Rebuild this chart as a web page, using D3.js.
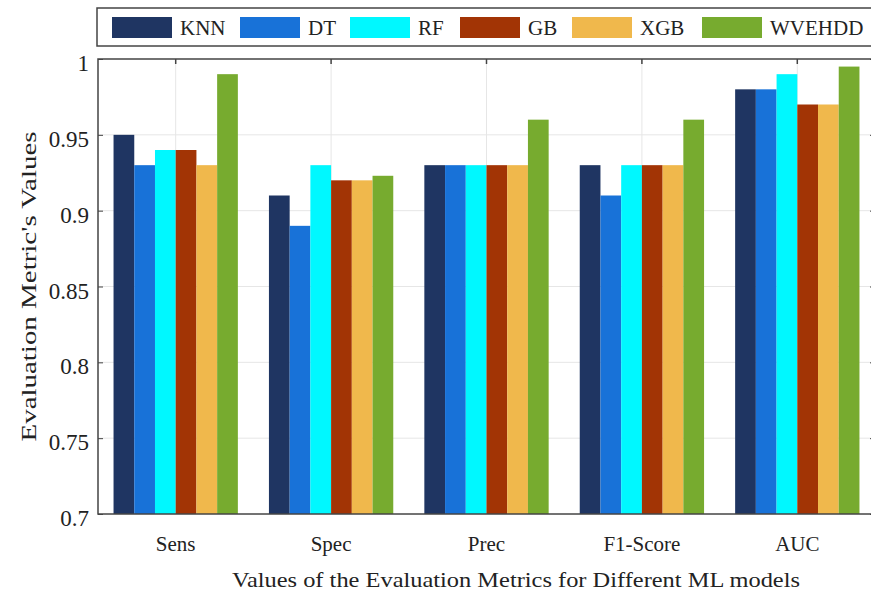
<!DOCTYPE html>
<html>
<head>
<meta charset="utf-8">
<script src="https://cdn.jsdelivr.net/npm/d3@7"></script>
<style>
  html, body { margin: 0; padding: 0; background: #fff; }
  svg { display: block; }
  text { font-family: "Liberation Serif", "Times New Roman", serif; fill: #222; }
</style>
</head>
<body>
<svg id="chart" width="871" height="596"></svg>
<script>
// ---- data ----
const categories = ["Sens", "Spec", "Prec", "F1-Score", "AUC"];
const models = ["KNN", "DT", "RF", "GB", "XGB", "WVEHDD"];
const KNN    = [0.95, 0.91, 0.93, 0.93, 0.98];
const DT     = [0.93, 0.89, 0.93, 0.91, 0.98];
const RF     = [0.94, 0.93, 0.93, 0.93, 0.99];
const GB     = [0.94, 0.92, 0.93, 0.93, 0.97];
const XGB    = [0.93, 0.92, 0.93, 0.93, 0.97];
const WVEHDD = [0.99, 0.923, 0.96, 0.96, 0.995];
const yTickValues = [0.7, 0.75, 0.8, 0.85, 0.9, 0.95, 1];
const yTickLabels = ["0.7", "0.75", "0.8", "0.85", "0.9", "0.95", "1"];
const colors = ["#1f3562", "#1872d8", "#00f8ff", "#a23405", "#f0b84c", "#77ab2f"];
const yLabel = "Evaluation Metric's Values";
const xLabel = "Values of the Evaluation Metrics for Different ML models";

const seriesValues = [KNN, DT, RF, GB, XGB, WVEHDD];

// ---- layout ----
const svg = d3.select("#chart");
const L = 98, R = 875, T = 59, B = 514;

const x0 = d3.scaleBand().domain(categories).range([L, R]).paddingInner(0.2).paddingOuter(0.1);
const x1 = d3.scaleBand().domain(models).range([0, x0.bandwidth()]);
const y = d3.scaleLinear().domain([0.7, 1]).range([B, T]);
const color = d3.scaleOrdinal().domain(models).range(colors);

// grid
const grid = svg.append("g");
grid.selectAll("line.h").data(yTickValues.slice(1, -1)).join("line")
  .attr("x1", L).attr("x2", R).attr("y1", d => y(d)).attr("y2", d => y(d))
  .attr("stroke", "#e6e6e6").attr("stroke-width", 1);
grid.selectAll("line.v").data(categories).join("line")
  .attr("x1", d => x0(d) + x0.bandwidth() / 2).attr("x2", d => x0(d) + x0.bandwidth() / 2)
  .attr("y1", T).attr("y2", B)
  .attr("stroke", "#e6e6e6").attr("stroke-width", 1);

// bars
const rows = categories.map((c, i) => ({ cat: c, vals: models.map((m, j) => ({ model: m, value: seriesValues[j][i] })) }));
svg.append("g").selectAll("g").data(rows).join("g")
  .attr("transform", d => `translate(${x0(d.cat)},0)`)
  .selectAll("rect").data(d => d.vals).join("rect")
  .attr("x", d => x1(d.model))
  .attr("width", x1.bandwidth())
  .attr("y", d => y(d.value))
  .attr("height", d => y(0.7) - y(d.value))
  .attr("fill", d => color(d.model));

// axes box
svg.append("rect").attr("x", L).attr("y", T).attr("width", R - L).attr("height", B - T)
  .attr("fill", "none").attr("stroke", "#444").attr("stroke-width", 1.5);

// y axis
const yAxis = d3.axisLeft(y).tickValues(yTickValues).tickSizeInner(-5).tickSizeOuter(0)
  .tickPadding(9).tickFormat((d, i) => yTickLabels[i]);
const gy = svg.append("g").attr("transform", `translate(${L},0)`).call(yAxis);
gy.select(".domain").remove();
gy.selectAll(".tick line").attr("stroke", "#444");
gy.selectAll(".tick text").attr("font-family", "Liberation Serif").attr("font-size", 23)
  .attr("fill", "#222").attr("dy", "0.5em");
// right ticks
svg.append("g").attr("transform", `translate(${R},0)`)
  .call(d3.axisRight(y).tickValues(yTickValues).tickSizeInner(-5).tickSizeOuter(0).tickFormat(""))
  .call(g => g.select(".domain").remove())
  .selectAll(".tick line").attr("stroke", "#444");

// x axis
const xAxis = d3.axisBottom(x0).tickSizeInner(0).tickSizeOuter(0).tickPadding(22);
const gx = svg.append("g").attr("transform", `translate(0,${B})`).call(xAxis);
gx.select(".domain").remove();
gx.selectAll(".tick text").attr("font-family", "Liberation Serif").attr("font-size", 21).attr("fill", "#222");
// top ticks
svg.append("g").attr("transform", `translate(0,${T})`)
  .call(d3.axisTop(x0).tickSizeInner(-5).tickSizeOuter(0).tickFormat(""))
  .call(g => g.select(".domain").remove())
  .selectAll(".tick line").attr("stroke", "#444").attr("stroke-width", 1.5);

// axis labels
svg.append("text").attr("x", 516).attr("y", 587).attr("text-anchor", "middle")
  .attr("font-size", 22).attr("textLength", 568).attr("lengthAdjust", "spacingAndGlyphs").text(xLabel);
svg.append("text").attr("transform", `translate(36,${(T + B) / 2}) rotate(-90)`)
  .attr("text-anchor", "middle").attr("font-size", 22).attr("textLength", 310)
  .attr("lengthAdjust", "spacingAndGlyphs").text(yLabel);

// legend
const lg = svg.append("g");
lg.append("rect").attr("x", 97).attr("y", 8).attr("width", 800).attr("height", 38)
  .attr("fill", "#fff").attr("stroke", "#444").attr("stroke-width", 1.5);
const legendStep = [0, 128, 238, 348, 460, 590];
const items = lg.selectAll("g.item").data(models).join("g")
  .attr("transform", (d, i) => `translate(${112 + legendStep[i]},0)`);
items.append("rect").attr("x", 0).attr("y", 17).attr("width", 60).attr("height", 21)
  .attr("fill", d => color(d));
items.append("text").attr("x", 68).attr("y", 35).attr("font-size", 21).text(d => d);
</script>
</body>
</html>
